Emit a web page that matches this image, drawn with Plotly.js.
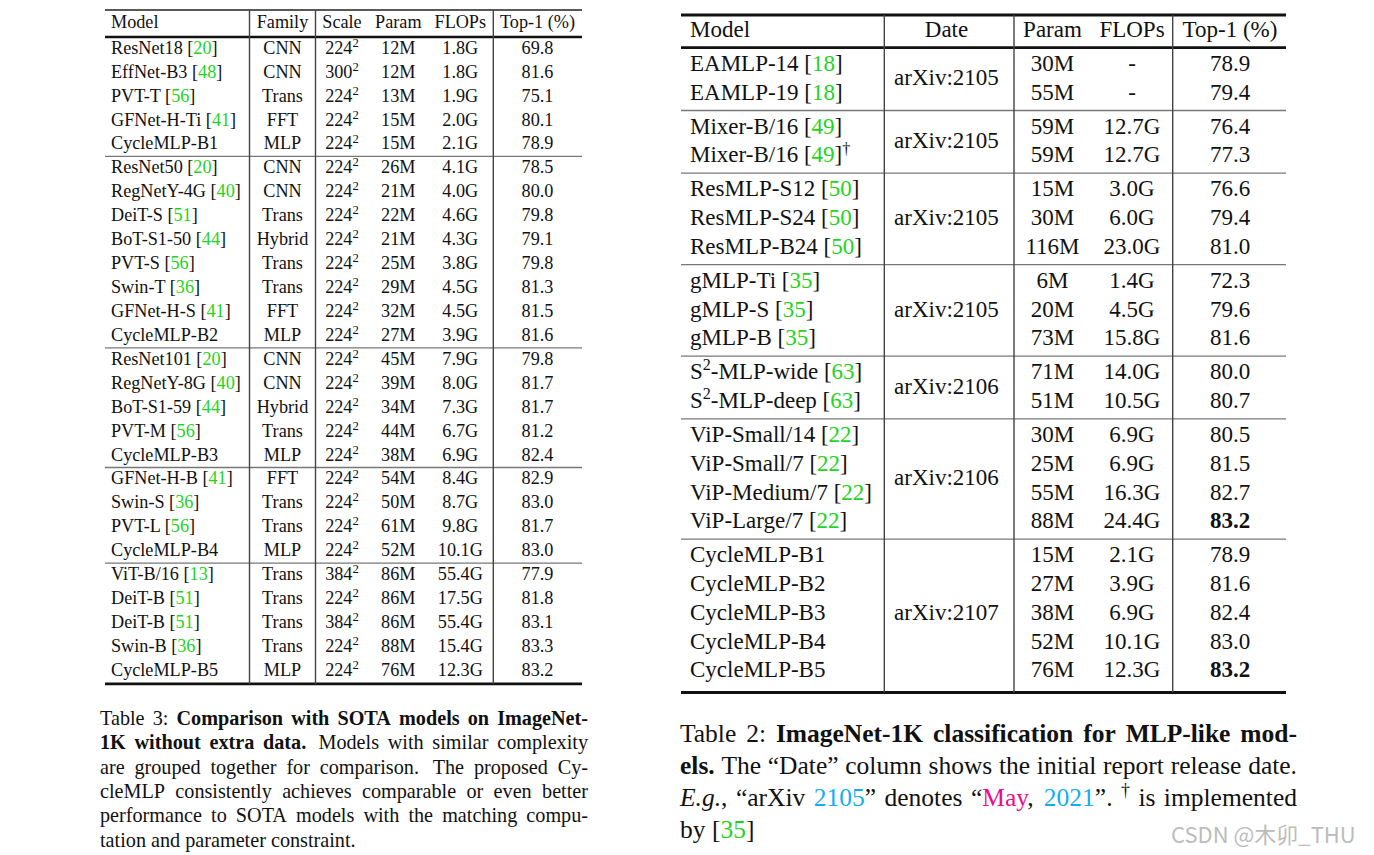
<!DOCTYPE html>
<html>
<head>
<meta charset="utf-8">
<script src="https://cdn.plot.ly/plotly-3.0.1.min.js"></script>
<style>html,body{margin:0;padding:0;background:#fff;overflow:hidden}</style>
</head>
<body>
<div id="chart" style="width:1374px;height:855px"></div>
<script>
// ================= DATA: Table 3 (left) =================
const t3Header = ['Model', 'Family', 'Scale', 'Param', 'FLOPs', 'Top-1 (%)'];
const t3Models = ['ResNet18', 'EffNet-B3', 'PVT-T', 'GFNet-H-Ti', 'CycleMLP-B1',
  'ResNet50', 'RegNetY-4G', 'DeiT-S', 'BoT-S1-50', 'PVT-S', 'Swin-T', 'GFNet-H-S', 'CycleMLP-B2',
  'ResNet101', 'RegNetY-8G', 'BoT-S1-59', 'PVT-M', 'CycleMLP-B3',
  'GFNet-H-B', 'Swin-S', 'PVT-L', 'CycleMLP-B4',
  'ViT-B/16', 'DeiT-B', 'DeiT-B', 'Swin-B', 'CycleMLP-B5'];
const t3Refs = ['20', '48', '56', '41', '',
  '20', '40', '51', '44', '56', '36', '41', '',
  '20', '40', '44', '56', '',
  '41', '36', '56', '',
  '13', '51', '51', '36', ''];
const t3Family = ['CNN', 'CNN', 'Trans', 'FFT', 'MLP',
  'CNN', 'CNN', 'Trans', 'Hybrid', 'Trans', 'Trans', 'FFT', 'MLP',
  'CNN', 'CNN', 'Hybrid', 'Trans', 'MLP',
  'FFT', 'Trans', 'Trans', 'MLP',
  'Trans', 'Trans', 'Trans', 'Trans', 'MLP'];
const t3Scale = [224, 300, 224, 224, 224,
  224, 224, 224, 224, 224, 224, 224, 224,
  224, 224, 224, 224, 224,
  224, 224, 224, 224,
  384, 224, 384, 224, 224];
const t3Param = ['12M', '12M', '13M', '15M', '15M',
  '26M', '21M', '22M', '21M', '25M', '29M', '32M', '27M',
  '45M', '39M', '34M', '44M', '38M',
  '54M', '50M', '61M', '52M',
  '86M', '86M', '86M', '88M', '76M'];
const t3Flops = ['1.8G', '1.8G', '1.9G', '2.0G', '2.1G',
  '4.1G', '4.0G', '4.6G', '4.3G', '3.8G', '4.5G', '4.5G', '3.9G',
  '7.9G', '8.0G', '7.3G', '6.7G', '6.9G',
  '8.4G', '8.7G', '9.8G', '10.1G',
  '55.4G', '17.5G', '55.4G', '15.4G', '12.3G'];
const t3Top1 = [69.8, 81.6, 75.1, 80.1, 78.9,
  78.5, 80.0, 79.8, 79.1, 79.8, 81.3, 81.5, 81.6,
  79.8, 81.7, 81.7, 81.2, 82.4,
  82.9, 83.0, 81.7, 83.0,
  77.9, 81.8, 83.1, 83.3, 83.2];
const t3GroupSizes = [5, 8, 5, 4, 5];

// ================= DATA: Table 2 (right) =================
const t2Header = ['Model', 'Date', 'Param', 'FLOPs', 'Top-1 (%)'];
const t2Models = ['EAMLP-14', 'EAMLP-19', 'Mixer-B/16', 'Mixer-B/16',
  'ResMLP-S12', 'ResMLP-S24', 'ResMLP-B24', 'gMLP-Ti', 'gMLP-S', 'gMLP-B',
  'S²-MLP-wide', 'S²-MLP-deep',
  'ViP-Small/14', 'ViP-Small/7', 'ViP-Medium/7', 'ViP-Large/7',
  'CycleMLP-B1', 'CycleMLP-B2', 'CycleMLP-B3', 'CycleMLP-B4', 'CycleMLP-B5'];
const t2Refs = ['18', '18', '49', '49', '50', '50', '50', '35', '35', '35', '63', '63',
  '22', '22', '22', '22', '', '', '', '', ''];
const t2Marks = ['', '', '', '†', '', '', '', '', '', '', '', '', '', '', '', '', '', '', '', '', ''];
const t2Param = ['30M', '55M', '59M', '59M', '15M', '30M', '116M', '6M', '20M', '73M', '71M', '51M',
  '30M', '25M', '55M', '88M', '15M', '27M', '38M', '52M', '76M'];
const t2Flops = ['-', '-', '12.7G', '12.7G', '3.0G', '6.0G', '23.0G', '1.4G', '4.5G', '15.8G', '14.0G', '10.5G',
  '6.9G', '6.9G', '16.3G', '24.4G', '2.1G', '3.9G', '6.9G', '10.1G', '12.3G'];
const t2Top1 = [78.9, 79.4, 76.4, 77.3, 76.6, 79.4, 81.0, 72.3, 79.6, 81.6, 80.0, 80.7,
  80.5, 81.5, 82.7, 83.2, 78.9, 81.6, 82.4, 83.0, 83.2];
const t2GroupSizes = [2, 2, 3, 3, 2, 4, 5];
const t2GroupDates = ['arXiv:2105', 'arXiv:2105', 'arXiv:2105', 'arXiv:2105', 'arXiv:2106', 'arXiv:2106', 'arXiv:2107'];

// ================= DATA: captions =================
// runs: [text, style]  style letters: b=bold i=italic g=green c=cyan m=magenta s=superscript
const cap3Lines = [
  [['Table 3: ', ''], ['Comparison with SOTA models on ImageNet-', 'b']],
  [['1K without extra data.', 'b'], ['  Models with similar complexity', '']],
  [['are grouped together for comparison.  The proposed Cy-', '']],
  [['cleMLP consistently achieves comparable or even better', '']],
  [['performance to SOTA models with the matching compu-', '']],
  [['tation and parameter constraint.', '']]
];
const cap2Lines = [
  [['Table 2: ', ''], ['ImageNet-1K classification for MLP-like mod-', 'b']],
  [['els.', 'b'], [' The “Date” column shows the initial report release date.', '']],
  [['E.g.', 'i'], [', “arXiv ', ''], ['2105', 'c'], ['” denotes “', ''], ['May', 'm'], [', ', ''], ['2021', 'c'], ['”. ', ''], ['†', 's'], [' is implemented', '']],
  [['by [', ''], ['35', 'g'], [']', '']]
];
const watermark = 'CSDN @木卯_THU';

// ================= STYLE / GEOMETRY =================
const SERIF = 'Liberation Serif';
const INK = '#111111';
const GREEN = '#1fd41f', CYAN = '#14aef0', MAGENTA = '#ec0b8c';
const SUP = 0.7;        // superscript size factor
const SUP_RAISE = 0.38; // superscript baseline raise (em of base size)

const G3 = { x0: 105, x1: 582, top: 10, headY: 21.5, headRule: 37, row0: 47.7, pitch: 23.93, gap: 0,
  sepOff: 1, bottomPad: 14, vlines: [249.5, 315.5, 493.3], fs: 18.2,
  colX: [111, 282.5, 342, 398.3, 460.3, 537.5] };
const G2 = { x0: 681, x1: 1286, top: 15, headY: 29.8, headRule: 47.7, row0: 63.2, pitch: 28.8, gap: 5.1,
  sepOff: 1.5, bottom: 692.5, vlines: [884.3, 1014, 1172.7], fs: 23,
  colX: [690, 946.5, 1052.5, 1132, 1230] };
const C3 = { x0: 100, x1: 588, y0: 718.3, pitch: 24.35, fs: 20.2 };
const C2 = { x0: 680, x1: 1297, y0: 734, pitch: 31.7, fs: 25.5 };

// ================= HELPERS =================
const traces = [];
const shapes = [];
const ctx = document.createElement('canvas').getContext('2d');

function fontStr(st, fs) {
  return (st.indexOf('i') >= 0 ? 'italic ' : '') + (st.indexOf('b') >= 0 ? 'bold ' : '') +
    (st.indexOf('s') >= 0 ? fs * SUP : fs) + 'px "' + SERIF + '"';
}
function measure(pieces, fs) {
  return pieces.reduce((s, p) => { ctx.font = fontStr(p[1], fs); return s + ctx.measureText(p[0]).width; }, 0);
}
function pieceHtml(t, st, size) {
  let h = t;
  const col = st.indexOf('g') >= 0 ? GREEN : st.indexOf('c') >= 0 ? CYAN : st.indexOf('m') >= 0 ? MAGENTA : null;
  if (col) h = '<span style="color:' + col + ';font-size:' + size + 'px">' + h + '</span>';
  if (st.indexOf('i') >= 0) h = '<i>' + h + '</i>';
  if (st.indexOf('b') >= 0) h = '<b>' + h + '</b>';
  return h;
}
// collected text points, one scatter trace per font size
const bins = {};
function emit(x, y, html, size) {
  const key = size.toFixed(3);
  if (!bins[key]) bins[key] = { xs: [], ys: [], txt: [], size: size };
  bins[key].xs.push(x); bins[key].ys.push(y); bins[key].txt.push(html);
}
// place rich text: pieces [[text, style]], align 'left' | 'center', capY = visual centre of capitals
function place(pieces, x, align, capY, fs) {
  const chunks = [];
  pieces.forEach(p => {
    if (p[0] === '') return;
    const sup = p[1].indexOf('s') >= 0;
    const last = chunks[chunks.length - 1];
    if (last && last.sup === sup) last.p.push(p); else chunks.push({ sup: sup, p: [p] });
  });
  chunks.forEach(c => { c.w = measure(c.p, fs); });
  const total = chunks.reduce((s, c) => s + c.w, 0);
  let cx = align === 'left' ? x : x - total / 2;
  chunks.forEach(c => {
    const size = c.sup ? fs * SUP : fs;
    const html = c.p.map(p => pieceHtml(p[0], p[1], size)).join('');
    // scatter 'middle right' text: baseline = y + 0.25*size ; cap centre = baseline - 0.331*fs
    const baseline = capY + 0.331 * fs - (c.sup ? SUP_RAISE * fs : 0);
    emit(cx, baseline - 0.25 * size, html, size);
    cx += c.w;
  });
}
const plain = t => [[String(t), '']];
const withSup = t => String(t).split('²').reduce((a, part, i) => { if (i) a.push(['2', 's']); a.push([part, '']); return a; }, []);
const citeP = r => r ? [[' [', ''], [r, 'g'], [']', '']] : [];

function hline(x0, x1, y, w, c) {
  shapes.push({ type: 'line', xref: 'x', yref: 'y', x0: x0, x1: x1, y0: y, y1: y, line: { color: c, width: w } });
}
function vline(x, y0, y1, w, c) {
  shapes.push({ type: 'line', xref: 'x', yref: 'y', x0: x, x1: x, y0: y0, y1: y1, line: { color: c, width: w } });
}
function rowCenters(sizes, row0, pitch, gap) {
  const ys = []; let i = 0;
  sizes.forEach((n, g) => { for (let k = 0; k < n; k++) { ys.push(row0 + pitch * i + gap * g); i++; } });
  return ys;
}
function groupEnds(sizes) { const e = []; let s = 0; sizes.forEach(n => { s += n; e.push(s - 1); }); return e; }

// ================= Table 3 =================
(function () {
  const ys = rowCenters(t3GroupSizes, G3.row0, G3.pitch, G3.gap);
  const cols = [
    { a: 'left', cell: i => withSup(t3Models[i]).concat(citeP(t3Refs[i])) },
    { a: 'center', cell: i => plain(t3Family[i]) },
    { a: 'center', cell: i => [[String(t3Scale[i]), ''], ['2', 's']] },
    { a: 'center', cell: i => plain(t3Param[i]) },
    { a: 'center', cell: i => plain(t3Flops[i]) },
    { a: 'center', cell: i => plain(t3Top1[i].toFixed(1)) }
  ];
  cols.forEach((c, k) => {
    place(plain(t3Header[k]), G3.colX[k], c.a, G3.headY, G3.fs);
    ys.forEach((y, i) => place(c.cell(i), G3.colX[k], c.a, y, G3.fs));
  });
  const ends = groupEnds(t3GroupSizes);
  const bottom = ys[ys.length - 1] + G3.bottomPad;
  hline(G3.x0, G3.x1, G3.top, 1.6, '#222');
  hline(G3.x0, G3.x1, G3.headRule, 2.4, '#111');
  ends.slice(0, -1).forEach(e => hline(G3.x0, G3.x1, (ys[e] + ys[e + 1]) / 2 + G3.sepOff, 1.3, '#777'));
  hline(G3.x0, G3.x1, bottom, 2.6, '#111');
  G3.vlines.forEach(x => vline(x, G3.top, bottom, 1.4, '#444'));
})();

// ================= Table 2 =================
(function () {
  const ys = rowCenters(t2GroupSizes, G2.row0, G2.pitch, G2.gap);
  const best = Math.max.apply(null, t2Top1);
  const cols = [
    { k: 0, a: 'left', cell: i => withSup(t2Models[i]).concat(citeP(t2Refs[i])).concat(t2Marks[i] ? [[t2Marks[i], 's']] : []) },
    { k: 2, a: 'center', cell: i => plain(t2Param[i]) },
    { k: 3, a: 'center', cell: i => plain(t2Flops[i]) },
    { k: 4, a: 'center', cell: i => [[t2Top1[i].toFixed(1), t2Top1[i] === best ? 'b' : '']] }
  ];
  cols.forEach(c => ys.forEach((y, i) => place(c.cell(i), G2.colX[c.k], c.a, y, G2.fs)));
  t2Header.forEach((h, k) => place(plain(h), G2.colX[k], k === 0 ? 'left' : 'center', G2.headY, G2.fs));
  // merged date cells
  const ends = groupEnds(t2GroupSizes);
  ends.forEach((e, g) => {
    const s = e - t2GroupSizes[g] + 1;
    place(plain(t2GroupDates[g]), G2.colX[1], 'center', (ys[s] + ys[e]) / 2, G2.fs);
  });
  hline(G2.x0, G2.x1, G2.top, 2.8, '#111');
  hline(G2.x0, G2.x1, G2.headRule, 2.8, '#111');
  ends.slice(0, -1).forEach(e => hline(G2.x0, G2.x1, (ys[e] + ys[e + 1]) / 2 + G2.sepOff, 1.4, '#777'));
  hline(G2.x0, G2.x1, G2.bottom, 2.8, '#111');
  G2.vlines.forEach(x => vline(x, G2.top, G2.bottom, 1.4, '#444'));
})();

// ================= Captions (justified) =================
function caption(lines, C) {
  lines.forEach((runs, li) => {
    const words = [], weights = [];
    let cur = [], spaces = 0;
    runs.forEach(([t, st]) => {
      t.split(/( +)/).forEach(p => {
        if (p === '') return;
        if (/^ +$/.test(p)) { if (cur.length) { words.push(cur); cur = []; } spaces += p.length; }
        else {
          if (!cur.length && words.length) weights.push(spaces > 1 ? 1.4 : 1);
          spaces = 0; cur.push([p, st]);
        }
      });
    });
    if (cur.length) words.push(cur);
    const widths = words.map(w => measure(w, C.fs));
    const total = widths.reduce((a, b) => a + b, 0);
    const wsum = weights.reduce((a, b) => a + b, 0);
    const justify = li < lines.length - 1 && wsum > 0;
    const unit = justify ? (C.x1 - C.x0 - total) / wsum : 0.25 * C.fs;
    let x = C.x0;
    const capY = C.y0 + C.pitch * li;
    words.forEach((w, k) => {
      place(w, x, 'left', capY, C.fs);
      x += widths[k] + (k < weights.length ? unit * weights[k] : 0);
    });
  });
}
caption(cap3Lines, C3);
caption(cap2Lines, C2);

// ================= traces =================
Object.keys(bins).forEach(key => {
  const b = bins[key];
  traces.push({ type: 'scatter', mode: 'text', x: b.xs, y: b.ys, text: b.txt, textposition: 'middle right',
    textfont: { family: SERIF, size: b.size, color: INK }, hoverinfo: 'skip', cliponaxis: false, showlegend: false });
});
traces.push({ type: 'scatter', mode: 'text', x: [1171], y: [836 + 0.081 * 22], text: [watermark], textposition: 'middle right',
  textfont: { family: 'Noto Sans CJK SC', size: 22, color: '#bcbcbc' }, hoverinfo: 'skip', cliponaxis: false, showlegend: false });

const layout = {
  width: 1374, height: 855,
  margin: { l: 0, r: 0, t: 0, b: 0, pad: 0 },
  paper_bgcolor: '#ffffff', plot_bgcolor: '#ffffff',
  showlegend: false, hovermode: false,
  xaxis: { range: [0, 1374], visible: false, fixedrange: true },
  yaxis: { range: [855, 0], visible: false, fixedrange: true },
  shapes: shapes
};
Plotly.newPlot('chart', traces, layout, { staticPlot: true, displayModeBar: false });
</script>
</body>
</html>
